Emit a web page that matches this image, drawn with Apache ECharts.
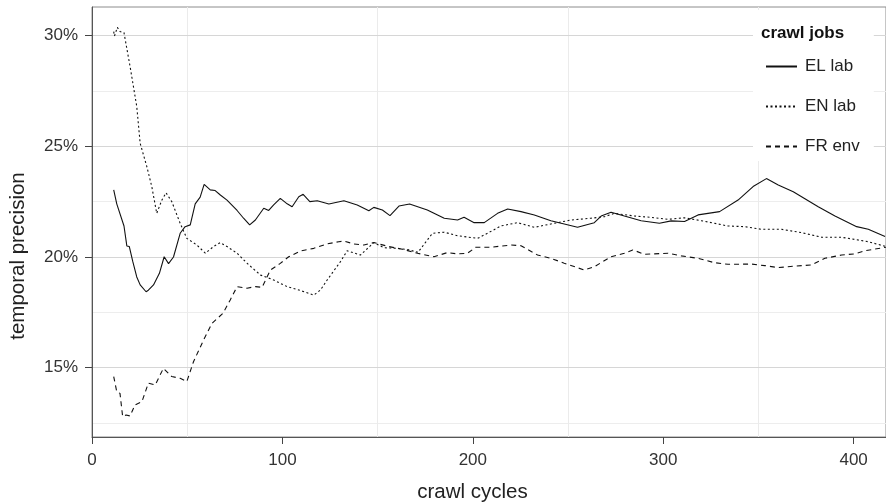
<!DOCTYPE html>
<html>
<head>
<meta charset="utf-8">
<script src="https://cdn.jsdelivr.net/npm/echarts@6/dist/echarts.min.js"></script>
<style>
  html, body { margin: 0; padding: 0; background: #fff; }
  #chart { width: 886px; height: 503px; }
</style>
</head>
<body>
<div id="chart"></div>
<script>
// crawl jobs, [crawl cycle, temporal precision %]
var elLab = [[11.4,23.03],[13,22.4],[16.8,21.4],[18.3,20.5],[19.6,20.47],[21.4,19.8],[23.5,19.1],[25.3,18.74],[28.4,18.43],[29.6,18.5],
  [32.3,18.74],[35.4,19.26],[37.9,20.01],[40.2,19.7],[42.8,20.0],[46.3,21.07],[48.9,21.37],[51.6,21.45],[54.2,22.4],[56.8,22.7],
  [58.9,23.28],[62.1,23.03],[64.7,23.0],[67.4,22.8],[70.9,22.57],[76.2,22.1],[79.6,21.75],[82.8,21.45],[85.8,21.67],[90.2,22.2],
  [92.8,22.1],[95.4,22.35],[98.9,22.65],[102.5,22.4],[105.1,22.27],[108.6,22.72],[110.9,22.83],[114.4,22.5],[118.3,22.54],[124.4,22.39],
  [132.3,22.54],[139.3,22.35],[145.4,22.09],[148,22.24],[152.5,22.12],[156.5,21.87],[161.2,22.3],[166.8,22.39],[176.1,22.12],[185,21.75],
  [192,21.67],[195.4,21.79],[200.7,21.55],[206,21.55],[213,21.97],[218.3,22.17],[225.3,22.05],[232.3,21.9],[241,21.64],[248,21.49],
  [255,21.34],[263.8,21.55],[267.4,21.85],[272.6,22.02],[279.6,21.85],[288.4,21.64],[298,21.52],[304.2,21.63],[311.2,21.6],[318.3,21.9],
  [329.6,22.05],[339.3,22.57],[347.2,23.18],[354.2,23.54],[360.4,23.25],[368.3,22.95],[381.4,22.27],[390.2,21.85],[401.6,21.37],[407.7,21.25],
  [416.5,20.92]];

var enLab = [[11.4,30.18],[11.8,29.98],[13.3,30.37],[14.7,30.18],[16.8,30.13],[20,28.6],[23.5,26.8],[25.3,25.13],[28.8,24.08],[31.4,23.18],
  [34,21.97],[36.7,22.57],[38.9,22.9],[41.9,22.5],[46.3,21.52],[49.8,20.84],[55.1,20.54],[59.5,20.17],[63.8,20.47],[67.4,20.65],
  [70.9,20.47],[76.2,20.17],[81.4,19.72],[88.4,19.19],[95.4,18.96],[102.5,18.66],[108.6,18.51],[116.5,18.28],[120,18.51],[123.5,18.96],
  [130.5,19.79],[134,20.28],[141,20.09],[148,20.65],[153.3,20.42],[160.4,20.39],[166.5,20.32],[171.2,20.21],[178.8,21.07],[185,21.12],
  [192,20.96],[202.5,20.84],[207.7,21.07],[214.7,21.4],[223.5,21.55],[232.3,21.34],[241,21.49],[251.6,21.67],[262,21.75],[269.1,21.82],
  [274.4,21.97],[284.9,21.85],[293.7,21.79],[302.5,21.7],[311.2,21.77],[320,21.64],[334,21.4],[342.8,21.37],[351.6,21.25],[362.1,21.25],
  [372.6,21.1],[383.2,20.89],[393.7,20.89],[407.7,20.69],[417,20.47]];

var frEnv = [[11.4,14.6],[13,13.92],[14.7,13.84],[16.1,12.79],[17.9,12.86],[20,12.82],[22.6,13.32],[26.2,13.46],[29.6,14.3],[33.2,14.22],
  [37.5,14.97],[41.9,14.6],[46.3,14.52],[49.8,14.37],[53.3,15.27],[58.6,16.25],[63,17.0],[68.8,17.46],[72.6,18.06],[76.2,18.66],
  [81.4,18.59],[85.8,18.66],[89.3,18.63],[93.7,19.41],[98.9,19.71],[103.3,20.01],[109.5,20.27],[116.5,20.39],[123.5,20.59],[129.6,20.69],
  [132.3,20.72],[137.5,20.59],[142.8,20.54],[148,20.65],[155.9,20.47],[163,20.35],[170.9,20.17],[179.6,20.01],[186.7,20.2],[192,20.14],
  [197.2,20.17],[201.6,20.44],[209.5,20.44],[220,20.54],[225.3,20.51],[234,20.09],[241,19.94],[248,19.72],[258.6,19.41],[263.8,19.56],
  [272.6,20.01],[279.6,20.17],[284,20.32],[290.2,20.12],[302.5,20.17],[309.5,20.05],[318.3,19.94],[327,19.74],[334,19.67],[346.3,19.68],
  [353.3,19.61],[360.4,19.52],[369.1,19.59],[377.9,19.64],[384.9,19.94],[393.7,20.09],[400.7,20.14],[406,20.28],[417,20.44]];

var seriesNames = ['EL lab', 'EN lab', 'FR env'];
var xTicks = [0, 100, 200, 300, 400];
var xMinor = [50, 150, 250, 350];
var yTicks = [15, 20, 25, 30];
var yMinor = [12.5, 17.5, 22.5, 27.5];

var font = 'Liberation Sans';
var ink = '#111';
var xRange = { min: 0, max: 417 };
var yRange = { min: 11.87, max: 31.29 };

// helper axis that only draws grid lines
function gridAxis(range, values, color, pos) {
  return {
    type: 'value', min: range.min, max: range.max, position: pos, z: 0,
    axisLine: { show: false },
    axisTick: { show: false, customValues: values },
    axisLabel: { show: false, customValues: values },
    splitLine: { show: true, lineStyle: { color: color, width: 1 } }
  };
}

var option = {
  animation: false,
  textStyle: { fontFamily: font },
  grid: {
    left: 92, top: 7, right: 0, bottom: 66,
    outerBoundsMode: 'none',
    show: true, borderColor: '#8c8c8c', borderWidth: 1, backgroundColor: '#fff'
  },
  title: {
    text: 'crawl jobs', left: 756, top: 20,
    textStyle: { fontFamily: font, fontSize: 17, fontWeight: 'bold', color: '#111' }
  },
  legend: {
    orient: 'vertical',
    left: 753, top: 10,
    padding: [48, 14, 6, 12],
    backgroundColor: '#fff',
    itemWidth: 31, itemHeight: 14, itemGap: 23,
    itemStyle: { opacity: 0 },
    textStyle: { fontFamily: font, fontSize: 17, color: '#222', padding: [0, 0, 0, 3] },
    data: seriesNames
  },
  xAxis: [{
    type: 'value', min: xRange.min, max: xRange.max, z: 1,
    name: 'crawl cycles', nameLocation: 'middle', nameGap: 45,
    nameTextStyle: { fontFamily: font, fontSize: 20.5, color: '#222', padding: [0, 33, 0, 0] },
    axisLine: { show: true, lineStyle: { color: '#555', width: 1 } },
    axisTick: { show: true, length: 7, customValues: xTicks, lineStyle: { color: '#444' } },
    axisLabel: { customValues: xTicks, margin: 15, fontSize: 17, color: '#333', fontFamily: font },
    splitLine: { show: false }
  }, gridAxis(xRange, xMinor, '#ebebeb', 'top')],
  yAxis: [{
    type: 'value', min: yRange.min, max: yRange.max, z: 1,
    name: 'temporal precision', nameLocation: 'middle', nameGap: 63,
    nameTextStyle: { fontFamily: font, fontSize: 20.5, color: '#222', padding: [0, 68, 0, 0] },
    axisLine: { show: true, lineStyle: { color: '#555', width: 1 } },
    axisTick: { show: true, length: 7, customValues: yTicks, lineStyle: { color: '#444' } },
    axisLabel: {
      customValues: yTicks, margin: 14, fontSize: 17, color: '#333', fontFamily: font,
      formatter: function (v) { return v + '%'; }
    },
    splitLine: { show: true, lineStyle: { color: '#d6d6d6', width: 1 } }
  }, gridAxis(yRange, yMinor, '#ededed', 'right')],
  series: [
    { name: seriesNames[0], type: 'line', data: elLab, symbol: 'none',
      lineStyle: { color: ink, width: 1.1, type: 'solid' }, itemStyle: { color: ink } },
    { name: seriesNames[1], type: 'line', data: enLab, symbol: 'none',
      lineStyle: { color: ink, width: 1.1, type: [2, 2.5] }, itemStyle: { color: ink } },
    { name: seriesNames[2], type: 'line', data: frEnv, symbol: 'none',
      lineStyle: { color: ink, width: 1.1, type: [5, 4] }, itemStyle: { color: ink } }
  ]
};

echarts.init(document.getElementById('chart')).setOption(option);
</script>
</body>
</html>
